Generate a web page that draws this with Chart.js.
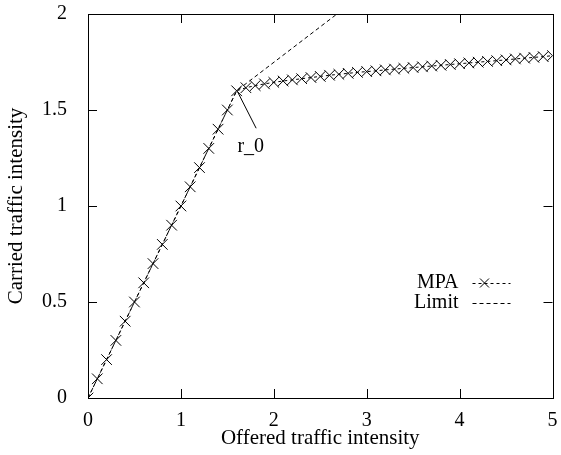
<!DOCTYPE html>
<html>
<head>
<meta charset="utf-8">
<script src="https://cdn.jsdelivr.net/npm/chart.js@4/dist/chart.umd.min.js"></script>
<style>
  html, body { margin: 0; padding: 0; background: #fff; }
  #wrap { width: 561px; height: 455px; }
</style>
</head>
<body>
<div id="wrap"><canvas id="chart" width="561" height="455"></canvas></div>
<script>
// offered traffic (x) and carried traffic (y) for the MPA curve
var mpaX = [0, 0.1, 0.2, 0.3, 0.4, 0.5, 0.6, 0.7, 0.8, 0.9, 1.0, 1.1, 1.2, 1.3, 1.4, 1.5, 1.6,
    1.7, 1.8, 1.9, 2.0, 2.1, 2.2, 2.3, 2.4, 2.5, 2.6, 2.7, 2.8, 2.9, 3.0, 3.1, 3.2, 3.3,
    3.4, 3.5, 3.6, 3.7, 3.8, 3.9, 4.0, 4.1, 4.2, 4.3, 4.4, 4.5, 4.6, 4.7, 4.8, 4.9, 5.0]
var mpaY = [0, 0.1, 0.2, 0.3, 0.4, 0.5, 0.6, 0.7, 0.8, 0.9, 1.0, 1.1, 1.2, 1.3, 1.4, 1.5, 1.6,
    1.616, 1.627, 1.636, 1.644, 1.651, 1.657, 1.663, 1.669, 1.675, 1.681, 1.686, 1.691, 1.696,
    1.700, 1.704, 1.709, 1.713, 1.717, 1.721, 1.725, 1.729, 1.733, 1.737, 1.741, 1.745,
    1.749, 1.753, 1.757, 1.761, 1.766, 1.770, 1.774, 1.778, 1.783]

// limit line
var limitX = [0, 1.6, 2.68]
var limitY = [0, 1.6, 2.0]

var xTicks = [0, 1, 2, 3, 4, 5]
var yTicks = [0, 0.5, 1, 1.5, 2]

// r_0 annotation (data coords)
var r0 = { label: 'r_0', textX: 1.752, textY: 1.307, fromX: 1.81, fromY: 1.405, toX: 1.61, toY: 1.595 }

var FAMILY = '"Liberation Serif", "Times New Roman", serif'
var FSIZE = 20

function pairs(xs, ys) {
    return xs.map((x, i) => ({ x: x, y: ys[i] }))
}

// gnuplot-ish frame with inward ticks, legend and r_0 arrow
var framePlugin = {
    id: 'frame',
    afterDraw(chart) {
        let ctx = chart.ctx
        let a = chart.chartArea
        let xs = chart.scales.x
        let ys = chart.scales.y
        let tl = 9
        ctx.save()
        ctx.strokeStyle = '#000'
        ctx.lineWidth = 1
        ctx.setLineDash([])
        ctx.strokeRect(Math.round(a.left) + 0.5, Math.round(a.top) + 0.5,
            Math.round(a.right - a.left), Math.round(a.bottom - a.top))
        ctx.beginPath()
        xTicks.forEach(v => {
            let px = Math.round(xs.getPixelForValue(v)) + 0.5
            ctx.moveTo(px, a.bottom); ctx.lineTo(px, a.bottom - tl)
            ctx.moveTo(px, a.top); ctx.lineTo(px, a.top + tl)
        })
        yTicks.forEach(v => {
            let py = Math.round(ys.getPixelForValue(v)) + 0.5
            ctx.moveTo(a.left, py); ctx.lineTo(a.left + tl, py)
            ctx.moveTo(a.right, py); ctx.lineTo(a.right - tl, py)
        })
        ctx.stroke()

        // r_0 arrow
        ctx.beginPath()
        ctx.moveTo(xs.getPixelForValue(r0.fromX), ys.getPixelForValue(r0.fromY))
        ctx.lineTo(xs.getPixelForValue(r0.toX), ys.getPixelForValue(r0.toY))
        ctx.stroke()
        ctx.font = FSIZE + 'px ' + FAMILY
        ctx.fillStyle = '#000'
        ctx.textAlign = 'center'
        ctx.textBaseline = 'middle'
        ctx.fillText(r0.label, xs.getPixelForValue(r0.textX), ys.getPixelForValue(r0.textY))

        // legend
        let legend = [
            { text: 'MPA', dash: [3, 3], cross: true },
            { text: 'Limit', dash: [4, 3], cross: false }
        ]
        let lx = a.right - 94, ly = a.top + 269
        legend.forEach((it, i) => {
            let y = ly + i * 20
            ctx.textAlign = 'right'
            ctx.fillText(it.text, lx, y)
            ctx.setLineDash(it.dash)
            ctx.beginPath()
            ctx.moveTo(lx + 14, y + 0.5); ctx.lineTo(lx + 52, y + 0.5)
            ctx.stroke()
            ctx.setLineDash([])
            if (it.cross) {
                let cx = lx + 26, d = 4.5
                ctx.beginPath()
                ctx.moveTo(cx - d, y - d); ctx.lineTo(cx + d, y + d)
                ctx.moveTo(cx - d, y + d); ctx.lineTo(cx + d, y - d)
                ctx.stroke()
            }
        })
        ctx.restore()
    }
}

var data = {
    datasets: [{
            label: 'MPA',
            data: pairs(mpaX, mpaY),
            borderColor: '#000',
            borderWidth: 1,
            borderDash: [3, 3],
            pointStyle: 'crossRot',
            pointRadius: 7.5,
            pointBorderWidth: 1,
            pointBorderColor: '#000',
            fill: false,
            tension: 0
        },
        {
            label: 'Limit',
            data: pairs(limitX, limitY),
            borderColor: '#000',
            borderWidth: 1,
            borderDash: [4, 3],
            pointRadius: 0,
            fill: false,
            tension: 0
        }
    ]
}

Chart.defaults.font.family = FAMILY
Chart.defaults.font.size = FSIZE
Chart.defaults.color = '#000'

let config = {
    type: 'line',
    data: data,
    options: {
        responsive: false,
        animation: false,
        events: [],
        layout: {
            padding: { left: 0, top: 14, right: 5, bottom: 0 }
        },
        plugins: {
            legend: { display: false },
            tooltip: { enabled: false }
        },
        scales: {
            x: {
                type: 'linear',
                min: 0,
                max: 5,
                afterFit: s => {
                    s.height = 57
                    s.paddingLeft = 0
                    s.paddingRight = 0
                },
                afterBuildTicks: s => { s.ticks = xTicks.map(v => ({ value: v })) },
                grid: { display: false },
                border: { display: false },
                ticks: { padding: 3, maxRotation: 0, callback: v => String(v) },
                title: {
                    display: true,
                    text: 'Offered traffic intensity',
                    font: { size: 21 },
                    padding: { top: 0, bottom: 4 }
                }
            },
            y: {
                type: 'linear',
                min: 0,
                max: 2,
                afterFit: s => {
                    s.width = 88
                    s.paddingTop = 0
                    s.paddingBottom = 0
                },
                afterBuildTicks: s => { s.ticks = yTicks.map(v => ({ value: v })) },
                grid: { display: false },
                border: { display: false },
                ticks: { padding: 13, callback: v => String(v) },
                title: {
                    display: true,
                    text: 'Carried traffic intensity',
                    font: { size: 21 },
                    padding: { top: 4, bottom: 0 }
                }
            }
        }
    },
    plugins: [framePlugin]
}

var chart = new Chart(document.getElementById('chart'), config)
</script>
</body>
</html>
